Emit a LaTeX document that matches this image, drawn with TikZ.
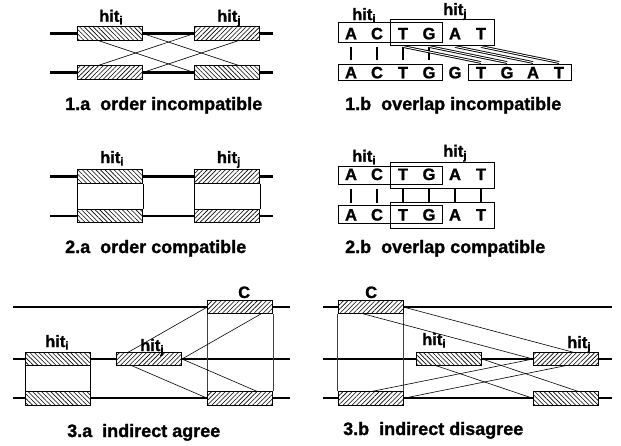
\documentclass[tikz,border=0pt]{standalone}
\usepackage{fontspec}
\setmainfont{Liberation Sans}[BoldFeatures={FakeBold=1.2}]
\usetikzlibrary{patterns.meta,backgrounds}
\begin{document}
\begin{tikzpicture}[x=1pt,y=1pt,
  lbl/.style={font=\bfseries\fontsize{16.5}{18}\selectfont, inner sep=0, anchor=base west},
  captxt/.style={font=\bfseries\fontsize{18}{20}\selectfont, inner sep=0, anchor=base west},
  nt/.style={font=\bfseries\fontsize{16.5}{18}\selectfont, inner sep=0, anchor=base},
  hb/.style={draw, line width=0.7pt, inner sep=0, minimum width=65pt, minimum height=13.5pt, preaction={fill=white}},
  hnw/.style={hb, pattern={Lines[angle=-45,distance=3.2pt,line width=0.6pt]}},
  hne/.style={hb, pattern={Lines[angle=45,distance=3.2pt,line width=0.6pt]}},
  gline/.style={line width=2.2pt},
  cline/.style={line width=0.6pt},
  vline/.style={line width=0.6pt},
  cvline/.style={line width=0.6pt, black!75},
  sbox/.style={draw, line width=0.8pt, inner sep=0, minimum width=104pt},
  vbar/.style={line width=1.8pt},
  dline/.style={double, line width=0.9pt, double distance=0.9pt},
]
\useasboundingbox (0,0) rectangle (621,-445);

% ---------- 1.a ----------
\node[hnw] (a1ti) at (110,-33.5) {};
\node[hne] (a1tj) at (227,-33.5) {};
\node[hne] (a1bi) at (110,-72.5) {};
\node[hnw] (a1bj) at (227,-72.5) {};
\coordinate (a1t0) at (50,-33.5); \coordinate (a1t1) at (273,-33.5);
\coordinate (a1b0) at (50,-72.5); \coordinate (a1b1) at (273,-72.5);
\node[lbl] (a1li) at (99,-21.7) {hit\textsubscript{i}};
\node[lbl] (a1lj) at (217,-21.7) {hit\textsubscript{j}};
\node[captxt] (a1cap) at (65,-110) {1.a\ \ order incompatible};

% ---------- 2.a ----------
\node[hnw] (a2ti) at (110,-176.5) {};
\node[hnw] (a2bi) at (110,-216) {};
\node[hne] (a2tj) at (227,-176.5) {};
\node[hne] (a2bj) at (227,-216) {};
\coordinate (a2t0) at (50,-176.5); \coordinate (a2t1) at (273,-176.5);
\coordinate (a2b0) at (50,-216); \coordinate (a2b1) at (273,-216);
\node[lbl] (a2li) at (100,-163) {hit\textsubscript{i}};
\node[lbl] (a2lj) at (216.7,-163) {hit\textsubscript{j}};
\node[captxt] (a2cap) at (65,-253) {2.a\ \ order compatible};

% ---------- 3.a ----------
\node[hnw] (a3ti) at (57.8,-359) {};
\node[hnw] (a3bi) at (57.8,-398.3) {};
\node[hne] (a3j) at (149.2,-359) {};
\node[hne] (a3ct) at (240.2,-307) {};
\node[hne] (a3cb) at (240.2,-398.3) {};
\coordinate (a3g10) at (13,-307); \coordinate (a3g11) at (290,-307);
\coordinate (a3g20) at (13,-359); \coordinate (a3g21) at (290,-359);
\coordinate (a3g30) at (13,-398.3); \coordinate (a3g31) at (290,-398.3);
\node[lbl] (a3li) at (45,-347) {hit\textsubscript{i}};
\node[lbl] (a3lj) at (140,-351) {hit\textsubscript{j}};
\node[lbl] (a3lc) at (238,-298) {C};
\node[captxt] (a3cap) at (67,-437) {3.a\ \ indirect agree};

% ---------- 3.b ----------
\node[hne] (b3ct) at (370.5,-307) {};
\node[hne] (b3cb) at (370.5,-398.3) {};
\node[hnw] (b3i) at (449.2,-359) {};
\node[hne] (b3j) at (565.8,-359) {};
\node[hnw] (b3br) at (565.8,-398.3) {};
\coordinate (b3g10) at (323,-307); \coordinate (b3g11) at (611.7,-307);
\coordinate (b3g20) at (323,-359); \coordinate (b3g21) at (611.7,-359);
\coordinate (b3g30) at (323,-398.3); \coordinate (b3g31) at (611.7,-398.3);
\node[lbl] (b3li) at (422,-345) {hit\textsubscript{i}};
\node[lbl] (b3lj) at (567,-348) {hit\textsubscript{j}};
\node[lbl] (b3lc) at (365,-298) {C};
\node[captxt] (b3cap) at (343,-435) {3.b\ \ indirect disagree};

% ---------- 1.b ----------
\foreach \n/\x/\t in {1/351/A,2/377/C,3/403/T,4/429/G,5/455/A,6/481/T}
  \node[nt] (b1t\n) at (\x,-39.3) {\t};
\foreach \n/\x/\t in {1/351/A,2/377/C,3/403/T,4/429/G,5/455/G,6/481/T,7/507/G,8/533/A,9/559/T}
  \node[nt] (b1b\n) at (\x,-78.3) {\t};
\node[sbox, minimum height=20.5pt] (b1hi) at (390,-32.5) {};
\node[sbox, minimum height=26pt] (b1hj) at (442,-32) {};
\node[sbox, minimum height=16pt] (b1x1) at (390,-72.2) {};
\node[sbox, minimum height=16pt, minimum width=103.4pt] (b1x2) at (520,-72.2) {};
\foreach \n in {1,2,3,4}
  \draw[vbar] (b1t\n.south |- 0,-46.7) -- (b1b\n.north |- 0,-60);
\foreach \a/\b in {3/6,4/7,5/8,6/9}
  \draw[dline] (b1t\a.south |- 0,-46.5) -- (b1b\b.north |- 0,-62.5);
\node[lbl] (b1li) at (352,-20) {hit\textsubscript{i}};
\node[lbl] (b1lj) at (443,-15) {hit\textsubscript{j}};
\node[captxt] (b1cap) at (345,-110) {1.b\ \ overlap incompatible};

% ---------- 2.b ----------
\foreach \n/\x/\t in {1/351/A,2/377/C,3/403/T,4/429/G,5/455/A,6/481/T}
  \node[nt] (b2t\n) at (\x,-180) {\t};
\foreach \n/\x/\t in {1/351/A,2/377/C,3/403/T,4/429/G,5/455/A,6/481/T}
  \node[nt] (b2b\n) at (\x,-220.5) {\t};
\node[sbox, minimum height=18pt] (b2hi) at (390,-175) {};
\node[sbox, minimum height=26pt] (b2hj) at (442,-175) {};
\node[sbox, minimum height=18pt] (b2xi) at (390,-214) {};
\node[sbox, minimum height=26pt] (b2xj) at (442,-215) {};
\foreach \n in {1,...,6}
  \draw[vbar] (b2t\n.south |- 0,-189.3) -- (b2b\n.north |- 0,-202.7);
\node[lbl] (b2li) at (352,-161.7) {hit\textsubscript{i}};
\node[lbl] (b2lj) at (443,-156.7) {hit\textsubscript{j}};
\node[captxt] (b2cap) at (345,-253) {2.b\ \ overlap compatible};

% ---------- lines beneath the boxes ----------
\begin{pgfonlayer}{background}
  % 1.a
  \draw[gline] (a1t0) -- (a1t1);
  \draw[gline] (a1b0) -- (a1b1);
  \draw[cline] (a1ti.west) -- (a1bj.west);
  \draw[cline] (a1ti.east) -- (a1bj.east);
  \draw[cline] (a1tj.west) -- (a1bi.west);
  \draw[cline] (a1tj.east) -- (a1bi.east);
  % 2.a
  \draw[gline] (a2t0) -- (a2t1);
  \draw[gline] (a2b0) -- (a2b1);
  \draw[vline] (a2ti.south west) -- (a2bi.north west);
  \draw[vline] (a2ti.south east) -- (a2bi.north east);
  \draw[vline] (a2tj.south west) -- (a2bj.north west);
  \draw[vline] (a2tj.south east) -- (a2bj.north east);
  % 3.a
  \draw[gline] (a3g10) -- (a3g11);
  \draw[gline] (a3g20) -- (a3g21);
  \draw[gline] (a3g30) -- (a3g31);
  \draw[vline] (a3ti.south west) -- (a3bi.north west);
  \draw[vline] (a3ti.south east) -- (a3bi.north east);
  \draw[cvline] (a3ct.south west) -- (a3cb.north west);
  \draw[cvline] (a3ct.south east) -- (a3cb.north east);
  \draw[cline] (a3j.west) -- (a3ct.west);
  \draw[cline] (a3j.east) -- (a3ct.east);
  \draw[cline] (a3j.west) -- (a3cb.west);
  \draw[cline] (a3j.east) -- (a3cb.east);
  % 3.b
  \draw[gline] (b3g10) -- (b3g11);
  \draw[gline] (b3g20) -- (b3g21);
  \draw[gline] (b3g30) -- (b3g31);
  \draw[cvline] (b3ct.south west) -- (b3cb.north west);
  \draw[cvline] (b3ct.south east) -- (b3cb.north east);
  \draw[cline] (b3ct.east) -- (b3j.east);
  \draw[cline] (b3ct.west) -- (b3j.west);
  \draw[cline] (b3cb.west) -- (b3j.west);
  \draw[cline] (b3cb.east) -- (b3j.east);
  \draw[cline] (b3i.west) -- (b3br.west);
  \draw[cline] (b3i.east) -- (b3br.east);
\end{pgfonlayer}
\end{tikzpicture}
\end{document}
